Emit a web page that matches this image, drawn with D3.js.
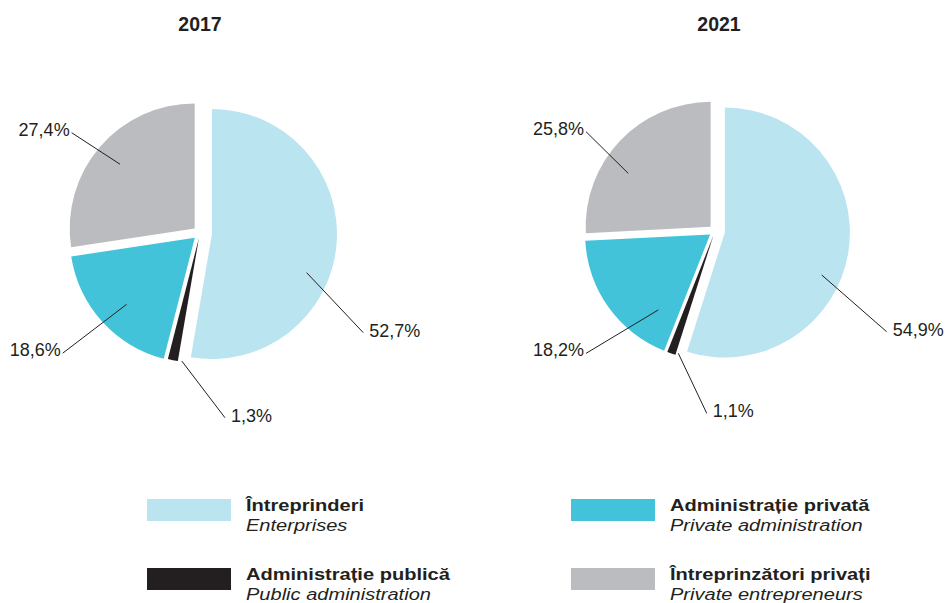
<!DOCTYPE html>
<html>
<head>
<meta charset="utf-8">
<script src="https://cdn.jsdelivr.net/npm/d3@7"></script>
<style>
  html, body { margin: 0; padding: 0; background: #ffffff; }
  svg { display: block; font-family: "Liberation Sans", Arial, Helvetica, sans-serif; }
</style>
</head>
<body>
<svg id="chart" width="949" height="603"></svg>
<script>
// ---------- DATA ----------
const years = ["2017", "2021"];
const categoriesRo = ["Întreprinderi", "Administrație publică", "Administrație privată", "Întreprinzători privați"];
const categoriesEn = ["Enterprises", "Public administration", "Private administration", "Private entrepreneurs"];
const values2017 = [52.7, 1.3, 18.6, 27.4];
const values2021 = [54.9, 1.1, 18.2, 25.8];
const valueLabels2017 = ["52,7%", "1,3%", "18,6%", "27,4%"];
const valueLabels2021 = ["54,9%", "1,1%", "18,2%", "25,8%"];

// ---------- STYLE / LAYOUT ----------
const colors = ["#bae4ef", "#231f20", "#43c3da", "#bbbcbf"];
const ink = "#231f20";
const radius = 125;
const pies = [
  { title: years[0], values: values2017, labels: valueLabels2017, cx: 200, cy: 233, titleX: 200,
    explode: [12, 5, 7, 7],
    // leader lines: [innerAngleDeg, innerR, outerAngleDeg, outerR, side]
    leaders: [[110.4, 113.8, 121.4, 191.3, "r"], [188.1, 129.3, 172.3, 186.4, "r"],
              [225.8, 102.3, 228.8, 182.5, "l"], [310.7, 105.4, 308.0, 162.9, "l"]] },
  { title: years[1], values: values2021, labels: valueLabels2021, cx: 715, cy: 231, titleX: 719,
    explode: [10, 5, 6, 6],
    leaders: [[112.4, 115.4, 120.4, 199.0, "r"], [196.7, 127.7, 182.6, 182.5, "r"],
              [215.7, 97.2, 226.5, 177.8, "l"], [303.6, 104.1, 307.6, 162.8, "l"]] }
];

const svg = d3.select("#chart");
const pie = d3.pie().sort(null).value(d => d).startAngle(0).endAngle(2 * Math.PI);
const arc = d3.arc().innerRadius(0).outerRadius(radius);
const rad = deg => deg * Math.PI / 180;
const polar = (a, r) => [r * Math.sin(rad(a)), -r * Math.cos(rad(a))];

pies.forEach(p => {
  const g = svg.append("g").attr("transform", `translate(${p.cx},${p.cy})`);
  const arcs = pie(p.values);

  g.selectAll("path.slice").data(arcs).enter().append("path")
    .attr("class", "slice")
    .attr("d", arc)
    .attr("fill", (d, i) => colors[i])
    .attr("transform", (d, i) => {
      const mid = (d.startAngle + d.endAngle) / 2;
      const e = p.explode[i];
      return `translate(${e * Math.sin(mid)},${-e * Math.cos(mid)})`;
    });

  // leader lines
  arcs.forEach((d, i) => {
    const [a1, r1, a2, r2, side] = p.leaders[i];
    const [x1, y1] = polar(a1, r1);
    const [x2, y2] = polar(a2, r2);
    g.append("line")
      .attr("x1", x1).attr("y1", y1).attr("x2", x2).attr("y2", y2)
      .attr("stroke", ink).attr("stroke-width", 1);
    g.append("text")
      .attr("x", side === "r" ? x2 + 6 : x2 - 2)
      .attr("y", y2 + (side === "r" ? 4 : 3))
      .attr("text-anchor", side === "r" ? "start" : "end")
      .attr("font-size", 18)
      .attr("fill", ink)
      .text(p.labels[i]);
  });

  svg.append("text")
    .attr("x", p.titleX).attr("y", 31)
    .attr("text-anchor", "middle")
    .attr("font-size", 19.5).attr("font-weight", "bold")
    .attr("fill", ink)
    .text(p.title);
});

// ---------- LEGEND ----------
const legendPos = [[147, 499], [147, 568], [571, 499], [571, 568]];
const legend = svg.append("g");
categoriesRo.forEach((c, i) => {
  const [x, y] = legendPos[i];
  const item = legend.append("g").attr("transform", `translate(${x},${y})`);
  item.append("rect").attr("width", 84).attr("height", 22).attr("fill", colors[i]);
  const t = item.append("g").attr("transform", "translate(99,0) scale(1.18,1)");
  t.append("text").attr("x", 0).attr("y", 12).attr("font-size", 17)
    .attr("font-weight", "bold").attr("fill", ink).text(c);
  t.append("text").attr("x", 0).attr("y", 32.5).attr("font-size", 17)
    .attr("font-style", "italic").attr("fill", ink).text(categoriesEn[i]);
});
</script>
</body>
</html>
